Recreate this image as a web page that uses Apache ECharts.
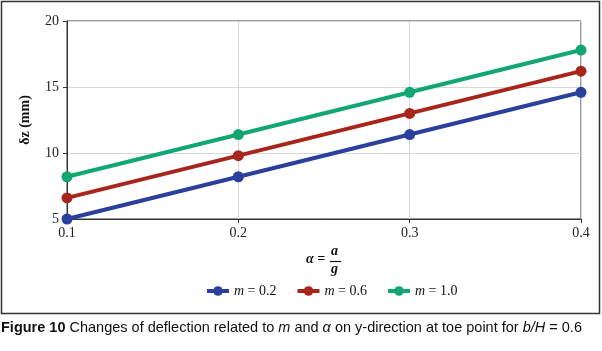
<!DOCTYPE html>
<html>
<head>
<meta charset="utf-8">
<script src="https://cdn.jsdelivr.net/npm/echarts@6/dist/echarts.min.js"></script>
<style>
  html, body { margin: 0; padding: 0; background: #fff; }
  #chart { width: 602px; height: 351px; }
</style>
</head>
<body>
<div id="chart"></div>
<script>
// accelerations alpha = a/g
const alphaValues = [0.1, 0.2, 0.3, 0.4];
const seriesNames = ['m = 0.2', 'm = 0.6', 'm = 1.0'];
const deflM02 = [5.0, 8.2, 11.4, 14.6];
const deflM06 = [6.6, 9.8, 13.0, 16.2];
const deflM10 = [8.2, 11.4, 14.6, 17.8];
const colors = ['#2a409c', '#a8251c', '#12a670'];

const serif = '"Liberation Serif", "DejaVu Serif", serif';
const capFont = '"Liberation Sans Narrow", "Liberation Sans", "Noto Sans", sans-serif';

const chart = echarts.init(document.getElementById('chart'));

const toPairs = arr => arr.map((v, i) => [alphaValues[i], v]);

const makeSeries = (name, data, color) => ({
  name: name,
  type: 'line',
  data: toPairs(data),
  symbol: 'circle',
  symbolSize: 11,
  lineStyle: { width: 4, color: color },
  itemStyle: { color: color },
  z: 3
});

const options = {
  animation: false,
  grid: {
    left: 67, right: 21, top: 21, bottom: 132,
    show: true, borderColor: '#333', borderWidth: 1
  },
  xAxis: {
    type: 'value',
    min: 0.1, max: 0.4, interval: 0.1,
    axisLine: { lineStyle: { color: '#333' } },
    axisTick: { show: true, length: 4, lineStyle: { color: '#333' } },
    axisLabel: {
      color: '#222', fontFamily: serif, fontSize: 14, margin: 7,
      formatter: v => v.toFixed(1)
    },
    splitLine: { show: true, lineStyle: { color: '#d8d8d8' } }
  },
  yAxis: {
    type: 'value',
    min: 5, max: 20, interval: 5,
    name: 'δz (mm)',
    nameLocation: 'middle',
    nameGap: 35,
    nameTextStyle: { fontFamily: serif, fontSize: 14, fontWeight: 'bold', color: '#111' },
    axisLine: { show: true, lineStyle: { color: '#333' } },
    axisTick: { show: true, length: 4, lineStyle: { color: '#333' } },
    axisLabel: { color: '#222', fontFamily: serif, fontSize: 14, margin: 8 },
    splitLine: { show: true, lineStyle: { color: '#d8d8d8' } }
  },
  legend: {
    top: 279,
    left: 200,
    itemWidth: 22,
    itemHeight: 12,
    itemGap: 19,
    data: seriesNames,
    lineStyle: { width: 4 },
    formatter: name => '{i|m}{t|' + name.slice(1) + '}',
    textStyle: {
      rich: {
        i: { fontFamily: serif, fontStyle: 'italic', fontSize: 14, color: '#111' },
        t: { fontFamily: serif, fontSize: 14, color: '#111' }
      }
    }
  },
  series: [
    makeSeries(seriesNames[0], deflM02, colors[0]),
    makeSeries(seriesNames[1], deflM06, colors[1]),
    makeSeries(seriesNames[2], deflM10, colors[2])
  ],
  graphic: [
    {
      type: 'rect',
      shape: { x: 1.5, y: 1.5, width: 598, height: 312 },
      style: { fill: 'none', stroke: '#333', lineWidth: 1.5 },
      silent: true
    },
    {
      type: 'text', left: 306, top: 252,
      style: { text: 'α =', font: 'italic bold 14px ' + serif, fill: '#111' }
    },
    {
      type: 'text', left: 331, top: 244,
      style: { text: 'a', font: 'italic bold 14px ' + serif, fill: '#111' }
    },
    {
      type: 'line',
      shape: { x1: 330, y1: 261.5, x2: 341, y2: 261.5 },
      style: { stroke: '#111', lineWidth: 1.2 }
    },
    {
      type: 'text', left: 331, top: 262,
      style: { text: 'g', font: 'italic bold 14px ' + serif, fill: '#111' }
    },
    {
      type: 'text', left: 1, top: 320,
      style: {
        text: '{b|Figure 10} Changes of deflection related to {i|m} and {i|α} on y-direction at toe point for {i|b/H} = 0.6',
        fill: '#111',
        font: '14.5px ' + capFont,
        rich: {
          b: { fontFamily: capFont, fontWeight: 'bold', fontSize: 14.5, fill: '#111' },
          i: { fontFamily: capFont, fontStyle: 'italic', fontSize: 14.5, fill: '#111' }
        }
      }
    }
  ]
};

chart.setOption(options);
</script>
</body>
</html>
